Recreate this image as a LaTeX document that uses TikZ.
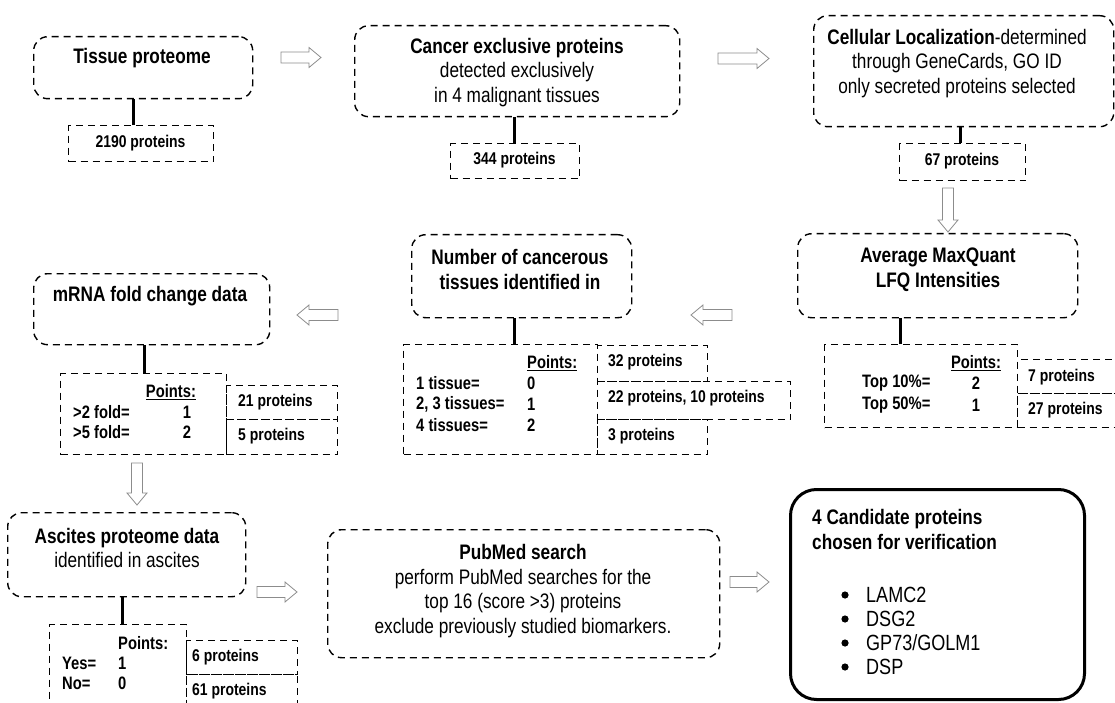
\documentclass[tikz,border=0pt]{standalone}
\usepackage{fontspec}
\setmainfont{Liberation Sans}[FakeStretch=0.82]
\usetikzlibrary{calc}
\newcommand\hollowR[3]{\draw[hollow] (#1,#3-5.5) -- (#2-12,#3-5.5) -- (#2-12,#3-10) -- (#2,#3) -- (#2-12,#3+10) -- (#2-12,#3+5.5) -- (#1,#3+5.5) -- cycle;}
\newcommand\hollowL[3]{\draw[hollow] (#2,#3-5.5) -- (#1+12,#3-5.5) -- (#1+12,#3-10) -- (#1,#3) -- (#1+12,#3+10) -- (#1+12,#3+5.5) -- (#2,#3+5.5) -- cycle;}
\newcommand\hollowD[3]{\draw[hollow] (#1-5.5,#2) -- (#1-5.5,#3-12) -- (#1-10,#3-12) -- (#1,#3) -- (#1+10,#3-12) -- (#1+5.5,#3-12) -- (#1+5.5,#2) -- cycle;}
\begin{document}
\begin{tikzpicture}[x=1pt,y=-1pt,
  dsh/.style={dash pattern=on 7pt off 5pt, line width=1.4pt},
  rbox/.style={draw, dsh, rounded corners=14pt, inner sep=0pt, anchor=north west},
  nbox/.style={draw, dsh, inner sep=0pt, anchor=north west},
  conn/.style={line width=3pt},
  hollow/.style={draw=black!45, line width=0.8pt, fill=white},
  ttl/.style={font=\fontsize{21}{24.5}\selectfont\bfseries, align=center, inner sep=0pt},
  body/.style={font=\fontsize{21}{24.5}\selectfont, align=center, inner sep=0pt},
  itm/.style={font=\fontsize{22}{24.5}\selectfont, inner sep=0pt, anchor=west},
  tab/.style={font=\fontsize{18}{21}\selectfont\bfseries, inner sep=0pt},
  cnt/.style={font=\fontsize{17}{20}\selectfont\bfseries, inner sep=0pt, anchor=west},
]
\useasboundingbox (0,0) rectangle (1115,703);

% ---- row 1 ----
\node[rbox, minimum width=219pt, minimum height=62pt] (tp) at (33,36) {};
\node[ttl] (tpt) at (142,58) {Tissue proteome};
\node[nbox, minimum width=145pt, minimum height=36pt] (tpn) at (68,125) {};
\node[cnt, anchor=center] (tpnt) at (140.5,143) {2190 proteins};
\draw[conn] (133,0 |- tp.south) -- (133,0 |- tpn.north);

\node[rbox, minimum width=325pt, minimum height=91pt] (ce) at (354,25) {};
\node[body] (cet) at (517,72.5) {\textbf{Cancer exclusive proteins}\\detected exclusively\\in 4 malignant tissues};
\node[nbox, minimum width=129pt, minimum height=35pt] (cen) at (450,143) {};
\node[cnt, anchor=center] (cent) at (514.5,160.5) {344 proteins};
\draw[conn] (514,0 |- ce.south) -- (514,0 |- cen.north);

\node[rbox, minimum width=300pt, minimum height=111pt] (cl) at (813,15) {};
\node[body] (clt) at (957,63.5) {\textbf{Cellular Localization}-determined\\through GeneCards, GO ID\\only secreted proteins selected};
\node[nbox, minimum width=126pt, minimum height=37pt] (cln) at (899,143) {};
\node[cnt, anchor=center] (clnt) at (962,161.5) {67 proteins};
\draw[conn] (960,0 |- cl.south) -- (960,0 |- cln.north);

\hollowR{281}{321}{57.5}
\hollowR{718}{769}{58.5}
\hollowD{948}{188}{232}

% ---- row 2 ----
\node[rbox, minimum width=280pt, minimum height=84pt] (av) at (797,233) {};
\node[ttl] (avt) at (938,269.5) {Average MaxQuant\\LFQ Intensities};
\node[nbox, minimum width=193pt, minimum height=83pt] (avb) at (824,344) {};
\node[nbox, minimum width=108pt, minimum height=34pt] (av7) at (1017,359) {};
\node[nbox, minimum width=108pt, minimum height=34pt] (av27) at (1017,393) {};
\draw[conn] (900,0 |- av.south) -- (900,0 |- avb.north);
\node[tab] (avp) at (976,363) {\underline{Points:}};
\node[tab, anchor=west] (av1) at (862,383) {Top 10\%=};
\node[tab] (av1v) at (976,383) {2};
\node[tab, anchor=west] (av2) at (862,405) {Top 50\%=};
\node[tab] (av2v) at (976,405) {1};
\node[cnt] (av7t) at (1028,377) {7 proteins};
\node[cnt] (av27t) at (1028,410) {27 proteins};

\hollowL{691}{732}{315}

\node[rbox, minimum width=220pt, minimum height=83pt] (nu) at (411,234) {};
\node[ttl] (nut) at (520,269.5) {Number of cancerous\\tissues identified in};
\node[nbox, minimum width=194pt, minimum height=110pt] (nub) at (403,344) {};
\node[nbox, minimum width=110pt, minimum height=36pt] (nu32) at (597,345) {};
\node[nbox, minimum width=193pt, minimum height=38pt] (nu22) at (597,381) {};
\node[nbox, minimum width=110pt, minimum height=35pt] (nu3) at (597,419) {};
\draw[conn] (514,0 |- nu.south) -- (514,0 |- nub.north);
\node[tab, anchor=west] (nup) at (527,363) {\underline{Points:}};
\node[tab, anchor=west] (nu1) at (416,383) {1 tissue=};
\node[tab, anchor=west] (nu1v) at (527,383) {0};
\node[tab, anchor=west] (nu2) at (416,404) {2, 3 tissues=};
\node[tab, anchor=west] (nu2v) at (527,404) {1};
\node[tab, anchor=west] (nu3l) at (416,425) {4 tissues=};
\node[tab, anchor=west] (nu3v) at (527,425) {2};
\node[cnt] (nu32t) at (608,362) {32 proteins};
\node[cnt] (nu22t) at (608,398) {22 proteins, 10 proteins};
\node[cnt] (nu3t) at (608,436) {3 proteins};

\hollowL{297}{338}{315}

\node[rbox, minimum width=236pt, minimum height=71pt] (mr) at (33,273) {};
\node[ttl] (mrt) at (150,296) {mRNA fold change data};
\node[nbox, minimum width=166pt, minimum height=81pt] (mrb) at (60,373) {};
\node[nbox, minimum width=111pt, minimum height=34pt] (mr21) at (226,385) {};
\node[nbox, minimum width=111pt, minimum height=35pt] (mr5) at (226,419) {};
\draw[conn] (144,0 |- mr.south) -- (144,0 |- mrb.north);
\node[tab] (mrp) at (171,392) {\underline{Points:}};
\node[tab, anchor=west] (mr1) at (73,412) {>2 fold=};
\node[tab] (mr1v) at (187,412) {1};
\node[tab, anchor=west] (mr2) at (73,432) {>5 fold=};
\node[tab] (mr2v) at (187,432) {2};
\node[cnt] (mr21t) at (238,402) {21 proteins};
\node[cnt] (mr5t) at (238,436) {5 proteins};

\hollowD{137}{463}{505}

% ---- row 3 ----
\node[rbox, minimum width=238pt, minimum height=84pt] (as) at (7,512) {};
\node[body] (ast) at (127,548) {\textbf{Ascites proteome data}\\identified in ascites};
\node[nbox, minimum width=137pt, minimum height=91pt] (asb) at (49,624) {};
\node[nbox, minimum width=111pt, minimum height=34pt] (as6) at (186,640) {};
\node[nbox, minimum width=111pt, minimum height=41pt] (as61) at (186,674) {};
\draw[conn] (122,0 |- as.south) -- (122,0 |- asb.north);
\node[tab, anchor=west] (asp) at (118,643) {Points:};
\node[tab, anchor=west] (as1) at (62,663) {Yes=};
\node[tab, anchor=west] (as1v) at (118,663) {1};
\node[tab, anchor=west] (as2) at (62,683) {No=};
\node[tab, anchor=west] (as2v) at (118,683) {0};
\node[cnt] (as6t) at (192,657) {6 proteins};
\node[cnt] (as61t) at (192,691) {61 proteins};

\hollowR{257}{297}{592}

\node[rbox, minimum width=392pt, minimum height=128pt] (pm) at (327,529) {};
\node[body] (pmt) at (523,591) {\textbf{PubMed search}\\perform PubMed searches for the\\top 16 (score >3) proteins\\exclude previously studied biomarkers.};

\hollowR{730}{769}{582}

\node[draw, line width=3pt, rounded corners=26pt, anchor=north west, inner sep=0pt,
      minimum width=294pt, minimum height=210pt] (cd) at (789,488) {};
\node[ttl, anchor=west, align=left] (cdt) at (812,529.5) {4 Candidate proteins\\chosen for verification};
\foreach \yy/\nm/\tx in {595/c1/LAMC2, 619/c2/DSG2, 643/c3/GP73\slash GOLM1, 667/c4/DSP}{
  \fill (845,\yy) circle (3.6pt);
  \node[itm] (\nm) at (866,\yy) {\tx};
}
\end{tikzpicture}
\end{document}
